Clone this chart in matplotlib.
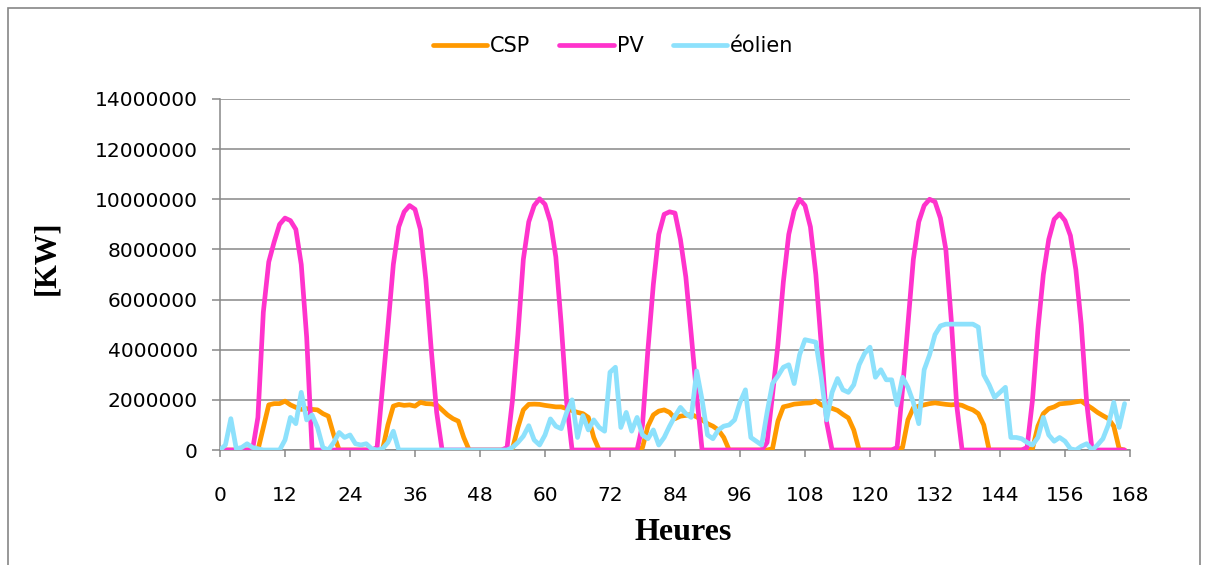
import numpy as np
import matplotlib
matplotlib.use("Agg")
import matplotlib.pyplot as plt
from matplotlib.patches import Rectangle

# Hourly output over one week, in millions of kW
hours = np.arange(168)

csp_m = [
    0, 0, 0, 0, 0, 0, 0, 0, 0.9, 1.8, 1.85, 1.85, 1.95, 1.8, 1.7, 1.62, 1.65, 1.62, 1.6, 1.45, 1.35, 0.6, 0, 0,
    0, 0, 0, 0, 0, 0, 0, 1.0, 1.75, 1.82, 1.78, 1.8, 1.75, 1.9, 1.85, 1.84, 1.8, 1.6, 1.4, 1.25, 1.15, 0.5, 0, 0,
    0, 0, 0, 0, 0, 0, 0.05, 0.9, 1.6, 1.82, 1.83, 1.82, 1.78, 1.75, 1.72, 1.72, 1.65, 1.57, 1.5, 1.45, 1.3, 0.5, 0, 0,
    0, 0, 0, 0, 0, 0, 0.1, 0.95, 1.4, 1.55, 1.6, 1.5, 1.25, 1.35, 1.38, 1.42, 1.32, 1.2, 1.05, 0.95, 0.8, 0.5, 0, 0,
    0, 0, 0, 0, 0, 0, 0.05, 1.15, 1.72, 1.77, 1.83, 1.85, 1.87, 1.88, 1.95, 1.8, 1.72, 1.66, 1.58, 1.42, 1.28, 0.8, 0, 0,
    0, 0, 0, 0, 0, 0, 0.1, 1.2, 1.68, 1.75, 1.8, 1.85, 1.88, 1.85, 1.82, 1.8, 1.82, 1.78, 1.68, 1.6, 1.45, 1.0, 0, 0,
    0, 0, 0, 0, 0, 0, 0.05, 0.95, 1.45, 1.65, 1.72, 1.84, 1.86, 1.88, 1.92, 1.95, 1.8, 1.66, 1.5, 1.37, 1.25, 0.95, 0.05, 0,
]

pv_m = [
    0, 0, 0, 0, 0, 0, 0, 1.3, 5.5, 7.5, 8.3, 9.0, 9.25, 9.15, 8.8, 7.4, 4.5, 0, 0, 0, 0, 0, 0, 0,
    0, 0, 0, 0, 0, 0.1, 2.5, 4.9, 7.4, 8.9, 9.5, 9.75, 9.6, 8.8, 6.8, 4.0, 1.5, 0, 0, 0, 0, 0, 0, 0,
    0, 0, 0, 0, 0, 0.1, 2.0, 4.6, 7.6, 9.1, 9.75, 10.02, 9.8, 9.1, 7.7, 5.0, 1.9, 0, 0, 0, 0, 0, 0, 0,
    0, 0, 0, 0, 0, 0, 1.0, 4.0, 6.6, 8.6, 9.4, 9.5, 9.45, 8.4, 6.9, 4.6, 2.2, 0, 0, 0, 0, 0, 0, 0,
    0, 0, 0, 0, 0, 0.3, 2.2, 4.2, 6.7, 8.6, 9.55, 10.0, 9.75, 8.9, 7.0, 4.2, 1.1, 0, 0, 0, 0, 0, 0, 0,
    0, 0, 0, 0, 0, 0.1, 2.4, 5.0, 7.6, 9.1, 9.75, 10.0, 9.9, 9.25, 8.0, 5.2, 1.8, 0, 0, 0, 0, 0, 0, 0,
    0, 0, 0, 0, 0, 0.1, 2.0, 4.8, 7.0, 8.4, 9.2, 9.42, 9.15, 8.55, 7.2, 5.0, 1.9, 0, 0, 0, 0, 0, 0, 0,
]

eolien_m = [
    0, 0.2, 1.25, 0.05, 0.1, 0.25, 0.1, 0.05, 0, 0, 0, 0, 0.4, 1.3, 1.05, 2.3, 1.2, 1.4, 0.9, 0.1, 0, 0.3, 0.7, 0.5,
    0.6, 0.25, 0.2, 0.25, 0.05, 0, 0.05, 0.3, 0.75, 0, 0, 0, 0, 0, 0, 0, 0, 0, 0, 0, 0, 0, 0, 0,
    0, 0, 0, 0, 0, 0, 0.1, 0.3, 0.55, 0.97, 0.4, 0.2, 0.6, 1.24, 0.95, 0.85, 1.5, 2.0, 0.5, 1.37, 0.8, 1.2, 0.9, 0.75,
    3.1, 3.3, 0.9, 1.5, 0.75, 1.3, 0.6, 0.45, 0.8, 0.2, 0.5, 0.95, 1.35, 1.7, 1.45, 1.3, 3.15, 2.0, 0.6, 0.45, 0.8, 0.95, 1.0, 1.2,
    1.9, 2.4, 0.5, 0.35, 0.2, 1.5, 2.65, 2.95, 3.3, 3.4, 2.65, 3.8, 4.4, 4.35, 4.3, 2.9, 1.2, 2.3, 2.85, 2.4, 2.3, 2.6, 3.4, 3.85,
    4.1, 2.9, 3.2, 2.8, 2.8, 1.8, 2.9, 2.5, 1.9, 1.05, 3.2, 3.8, 4.6, 4.95, 5.02, 5.02, 5.02, 5.02, 5.02, 5.02, 4.9, 3.0, 2.6, 2.1,
    2.3, 2.5, 0.5, 0.5, 0.45, 0.3, 0.2, 0.5, 1.3, 0.6, 0.35, 0.5, 0.35, 0.05, 0, 0.15, 0.25, 0, 0.2, 0.45, 1.0, 1.9, 0.9, 1.85,
]

series_names = ["CSP", "PV", "éolien"]
series_colors = ["#FF9900", "#FF33CC", "#8DE1FC"]
x_ticks = list(range(0, 169, 12))
y_ticks = list(range(0, 14000001, 2000000))

UNIT = 1e6
csp = np.array(csp_m) * UNIT
pv = np.array(pv_m) * UNIT
eolien = np.array(eolien_m) * UNIT

W, H = 1210, 565
fig = plt.figure(figsize=(W / 100, H / 100), dpi=100)
fig.patch.set_facecolor("white")

# outer chart frame
fig.add_artist(Rectangle((8 / W, -0.05), (1200 - 8) / W, 1 - 8 / H + 0.05,
                         transform=fig.transFigure, fill=False,
                         edgecolor="#868686", linewidth=1.2))

ax = fig.add_axes([220 / W, 1 - 450 / H, 910 / W, 351 / H])
grid_col = "#888888"

lines = []
for data, name, col in zip([csp, pv, eolien], series_names, series_colors):
    ln, = ax.plot(hours, data, color=col, linewidth=3.4, label=name,
                  solid_joinstyle="round", solid_capstyle="round", zorder=3)
    lines.append(ln)

ax.set_xlim(0, 168)
ax.set_ylim(0, 14000000)
ax.set_xticks(x_ticks)
ax.set_xticklabels([str(t) for t in x_ticks])
ax.set_yticks(y_ticks)
ax.set_yticklabels([str(t) for t in y_ticks])

ax.yaxis.grid(True, color=grid_col, linewidth=1.1)
ax.set_axisbelow(True)
for side in ["top", "right"]:
    ax.spines[side].set_visible(False)
for side in ["left", "bottom"]:
    ax.spines[side].set_color(grid_col)
    ax.spines[side].set_linewidth(1.1)

ax.tick_params(axis="x", direction="out", length=5, width=1.1, color=grid_col,
               pad=21, labelsize=14.5, labelcolor="black")
ax.tick_params(axis="y", direction="out", length=6, width=1.1, color=grid_col,
               pad=10, labelsize=14.5, labelcolor="black")

fig.text(683 / W, 1 - 533 / H, "Heures", ha="center", va="center",
         fontsize=23, fontweight="bold", family="Liberation Serif")
fig.text(47 / W, 1 - 258 / H, "[KW]", ha="center", va="center", rotation=90,
         fontsize=22, fontweight="bold", family="Liberation Serif")

fig.legend(handles=lines, loc="center", bbox_to_anchor=(613 / W, 1 - 46 / H),
           ncol=3, frameon=False, fontsize=15, handlelength=2.6,
           handletextpad=0.15, columnspacing=1.4)

fig.savefig("out.png", dpi=100, facecolor="white")
